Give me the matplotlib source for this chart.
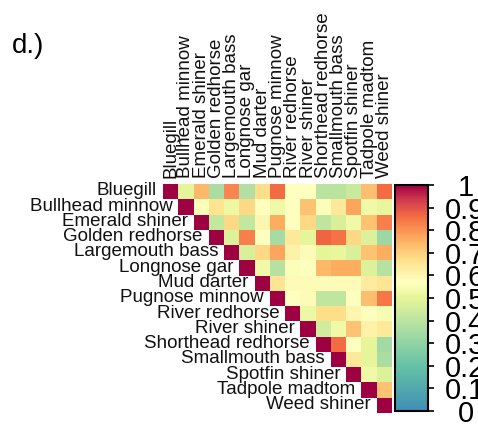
import numpy as np
import matplotlib
matplotlib.use('Agg')
import matplotlib.pyplot as plt
from matplotlib.colors import LinearSegmentedColormap

species = ['Bluegill', 'Bullhead minnow', 'Emerald shiner', 'Golden redhorse',
           'Largemouth bass', 'Longnose gar', 'Mud darter', 'Pugnose minnow',
           'River redhorse', 'River shiner', 'Shorthead redhorse',
           'Smallmouth bass', 'Spotfin shiner', 'Tadpole madtom', 'Weed shiner']

# upper triangle, row i holds columns i+1 .. 14
upper = [
    [0.50, 0.74, 0.36, 0.82, 0.38, 0.67, 0.86, 0.57, 0.57, 0.40, 0.40, 0.43, 0.73, 0.86],
    [0.56, 0.66, 0.52, 0.68, 0.57, 0.53, 0.57, 0.72, 0.56, 0.64, 0.77, 0.53, 0.51],
    [0.42, 0.68, 0.42, 0.60, 0.76, 0.57, 0.68, 0.41, 0.47, 0.53, 0.72, 0.83],
    [0.48, 0.83, 0.57, 0.35, 0.64, 0.50, 0.87, 0.85, 0.68, 0.48, 0.33],
    [0.47, 0.68, 0.77, 0.61, 0.58, 0.50, 0.51, 0.47, 0.72, 0.76],
    [0.53, 0.39, 0.56, 0.57, 0.74, 0.76, 0.76, 0.48, 0.39],
    [0.65, 0.58, 0.58, 0.58, 0.58, 0.58, 0.63, 0.65],
    [0.57, 0.58, 0.41, 0.41, 0.57, 0.73, 0.84],
    [0.52, 0.67, 0.67, 0.60, 0.57, 0.55],
    [0.45, 0.53, 0.72, 0.61, 0.64],
    [0.86, 0.57, 0.50, 0.34],
    [0.64, 0.50, 0.36],
    [0.53, 0.48],
    [0.72],
    [],
]

cb_ticks = [0, 0.1, 0.2, 0.3, 0.4, 0.5, 0.6, 0.7, 0.8, 0.9, 1]
cb_labels = ['0', '0.1', '0.2', '0.3', '0.4', '0.5', '0.6', '0.7', '0.8', '0.9', '1']

n = len(species)
M = np.full((n, n), np.nan)
for i in range(n):
    M[i, i] = 1.0
    for k, v in enumerate(upper[i]):
        M[i, i + 1 + k] = v

cmap = LinearSegmentedColormap.from_list('spec', [
    (0.0, '#3f8fb5'), (0.2, '#66c2a5'), (0.36, '#abdda4'), (0.5, '#e6f598'),
    (0.57, '#ffffbf'), (0.67, '#fee08b'), (0.76, '#fdae61'), (0.86, '#f46d43'),
    (0.93, '#d53e4f'), (1.0, '#9e0142')])
cmap.set_bad('white')

plt.rcParams['font.family'] = ['Liberation Sans', 'DejaVu Sans']

W, H = 478, 426
fig = plt.figure(figsize=(W / 100, H / 100), dpi=100)

ax = fig.add_axes([163 / W, 1 - 413 / H, 229 / W, 229 / H])
im = ax.imshow(np.ma.masked_invalid(M), cmap=cmap, vmin=0, vmax=1,
               aspect='auto', interpolation='nearest')
ax.set_xlim(-0.5, n - 0.5)
ax.set_ylim(n - 0.5, -0.5)
ax.axis('off')

fs = 13.5
gap = 6 / (229 / n)
for i, name in enumerate(species):
    ax.text(i, -0.5 - gap, name, rotation=90, ha='center', va='bottom',
            fontsize=fs, color='#111111')
    ax.text(i - 0.5 - gap, i - 0.05, name, ha='right', va='center',
            fontsize=fs, color='#111111')

cax = fig.add_axes([395 / W, 1 - 411 / H, 33 / W, 226 / H])
cb = fig.colorbar(im, cax=cax, ticks=cb_ticks)
cb.outline.set_linewidth(1.5)
cb.outline.set_edgecolor('black')
cax.tick_params(axis='y', length=4, width=1.2, pad=23, labelsize=21)
cax.set_yticklabels(cb_labels)
for lab in cax.get_yticklabels():
    lab.set_ha('center')

fig.text(12 / W, 1 - 53 / H, 'd.)', fontsize=20, va='baseline', ha='left')

fig.savefig('out.png', dpi=100)
